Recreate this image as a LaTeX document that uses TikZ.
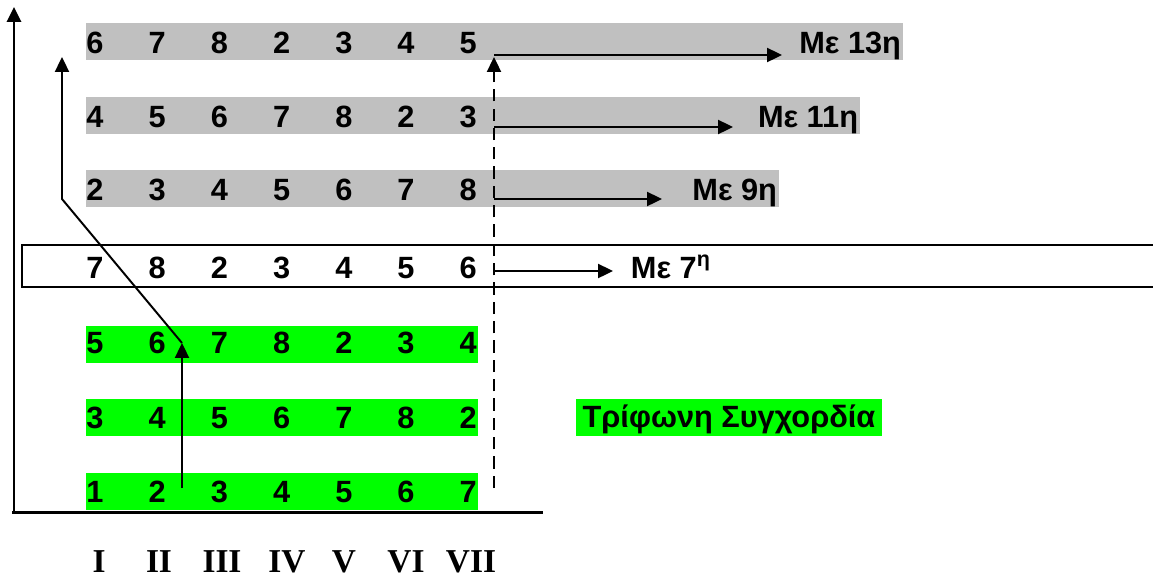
\documentclass[tikz,border=0pt]{standalone}
\usepackage{fontspec}
\setmainfont{Liberation Serif}
\newfontfamily\arial{Liberation Sans}
\usetikzlibrary{arrows.meta}
\definecolor{bandgray}{RGB}{192,192,192}
\definecolor{bandgreen}{RGB}{0,255,0}

\begin{document}
\begin{tikzpicture}[x=0.02cm,y=-0.02cm,line width=1.1pt,>={Triangle[length=8.5pt,width=8pt]},
  num/.style={font=\arial\bfseries\fontsize{17.5}{19}\selectfont,anchor=base,inner sep=0pt},
  degree/.style={font=\arial\bfseries\fontsize{17.5}{19}\selectfont,inner sep=0pt},
  roman/.style={font=\bfseries\fontsize{19}{21}\selectfont,anchor=base,inner sep=0pt}]
  \useasboundingbox (0,0) rectangle (1153,579);
  % bands
  \fill[bandgray] (86,23) rectangle (903,60);
  \fill[bandgray] (86,97) rectangle (860,134);
  \fill[bandgray] (86,170) rectangle (779,207);
  \fill[bandgreen] (86,326) rectangle (478,363);
  \fill[bandgreen] (86,399) rectangle (478,436);
  \fill[bandgreen] (86,473) rectangle (478,510);
  \fill[bandgreen] (576,399) rectangle (882,436);
  % row with the seventh
  \draw[line width=1.5pt] (1160,245) -- (22,245) -- (22,287) -- (1160,287);
  % axes
  \coordinate (origin) at (14,512);
  \coordinate (ytop) at (14,7);
  \coordinate (xend) at (543,512);
  \draw[->,line width=1.7pt] (origin) -- (ytop);
  \draw[line width=1.7pt] (12,512) -- (xend);
  % notes of each row
  \foreach \r/\y/\list in {1/53/{6,7,8,2,3,4,5},2/127/{4,5,6,7,8,2,3},3/200/{2,3,4,5,6,7,8},
      4/278/{7,8,2,3,4,5,6},5/353/{5,6,7,8,2,3,4},6/428/{3,4,5,6,7,8,2},7/502/{1,2,3,4,5,6,7}}
    \foreach \d [count=\i] in \list
      \node[num] (n\r-\i) at ({95+62.2*(\i-1)},\y) {\d};
  % degrees
  \node[roman] (deg1) at (99,572) {I};
  \node[roman] (deg2) at (159,572) {II};
  \node[roman] (deg3) at (222,572) {III};
  \node[roman] (deg4) at (287,572) {IV};
  \node[roman] (deg5) at (344,572) {V};
  \node[roman] (deg6) at (406,572) {VI};
  \node[roman] (deg7) at (471,572) {VII};
  % extensions
  \node[degree,anchor=base east] (m13) at (902,53) {Με 13η};
  \node[degree,anchor=base east] (m11) at (859,127) {Με 11η};
  \node[degree,anchor=base east] (m9) at (778,200) {Με 9η};
  \node[degree,anchor=base west] (m7) at (630,278) {Με 7\textsuperscript{η}};
  \node[degree,anchor=base] (triad) at (729,427) {Τρίφωνη Συγχορδία};
  % dashed stack on VII
  \coordinate (vii-foot) at (494,488);
  \coordinate (vii-head) at (494,57);
  \draw[->,dash pattern=on 7pt off 4pt] (vii-foot) -- (vii-head);
  \coordinate (s13) at (494,55);  \coordinate (e13) at (782,55);
  \coordinate (s11) at (494,127); \coordinate (e11) at (733,127);
  \coordinate (s9) at (494,199);  \coordinate (e9) at (662,199);
  \coordinate (s7) at (494,271);  \coordinate (e7) at (613,271);
  \draw[->] (s13) -- (e13);
  \draw[->] (s11) -- (e11);
  \draw[->] (s9) -- (e9);
  \draw[->] (s7) -- (e7);
  % stack on II
  \coordinate (ii-foot) at (182,488);
  \coordinate (ii-head) at (182,343);
  \coordinate (bend) at (62,199);
  \coordinate (up-head) at (62,57);
  \draw[->] (ii-foot) -- (ii-head);
  \draw[->] (ii-head) -- (bend) -- (up-head);
\end{tikzpicture}
\end{document}
